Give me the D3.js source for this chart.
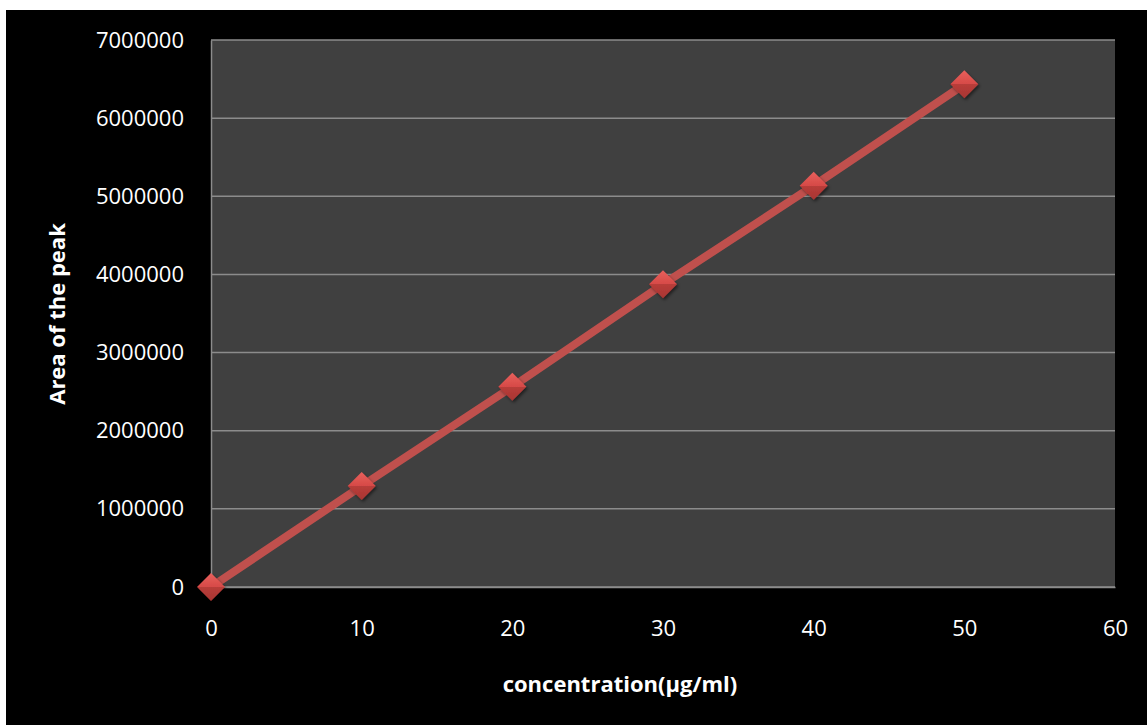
<!DOCTYPE html>
<html><head><meta charset="utf-8">
<script src="https://cdn.jsdelivr.net/npm/d3@7"></script>
<style>
html,body{margin:0;padding:0;background:#fff;}
svg{display:block;}
</style></head>
<body>
<script>
const concentration = [0, 10, 20, 30, 40, 50];
const peakArea = [0, 1293000, 2563000, 3874000, 5136000, 6433000];
const xTicks = [0, 10, 20, 30, 40, 50, 60];
const yTicks = [0, 1000000, 2000000, 3000000, 4000000, 5000000, 6000000, 7000000];

(function(){
const W = 1147, H = 725;
const svg = d3.select("body").append("svg").attr("width", W).attr("height", H);

const defs = svg.append("defs");
const grad = defs.append("linearGradient").attr("id","mk").attr("x1",0).attr("y1",0).attr("x2",0).attr("y2",1);
grad.append("stop").attr("offset","0%").attr("stop-color","#e8605c");
grad.append("stop").attr("offset","50%").attr("stop-color","#d64a47");
grad.append("stop").attr("offset","50%").attr("stop-color","#b93d3a");
grad.append("stop").attr("offset","100%").attr("stop-color","#a83532");
const filt = defs.append("filter").attr("id","sh").attr("x","-50%").attr("y","-50%").attr("width","200%").attr("height","200%");
filt.append("feDropShadow").attr("dx",1.5).attr("dy",2).attr("stdDeviation",1.5).attr("flood-color","#000").attr("flood-opacity",0.5);

svg.append("rect").attr("x",0).attr("y",0).attr("width",W).attr("height",H).attr("fill","#fff");
svg.append("rect").attr("x",6).attr("y",10).attr("width",W-6).attr("height",H-10).attr("fill","#000");

const pl = 211, pr = 1115, pt = 40, pb = 587;
const x = d3.scaleLinear().domain([0,60]).range([pl,pr]);
const y = d3.scaleLinear().domain([0,7000000]).range([pb,pt]);

svg.append("rect").attr("x",pl).attr("y",pt).attr("width",pr-pl).attr("height",pb-pt).attr("fill","#404040");

svg.append("g").selectAll("line").data(yTicks).join("line")
  .attr("x1",pl).attr("x2",pr)
  .attr("y1",d=>y(d)).attr("y2",d=>y(d))
  .attr("stroke","#8c8c8c").attr("stroke-width",1.5);

const yAxis = d3.axisLeft(y).tickValues(yTicks).tickFormat(d3.format("d")).tickSize(0).tickPadding(27);
const gy = svg.append("g").attr("transform",`translate(${pl},0)`).call(yAxis);
gy.select(".domain").attr("stroke","#8c8c8c").attr("stroke-width",1.5);
gy.selectAll("text").attr("fill","#fff").style("font-family","'Open Sans', sans-serif").style("font-size","22px");

const xAxis = d3.axisBottom(x).tickValues(xTicks).tickFormat(d3.format("d")).tickSize(0).tickPadding(33);
const gx = svg.append("g").attr("transform",`translate(0,${pb})`).call(xAxis);
gx.select(".domain").attr("stroke","#8c8c8c").attr("stroke-width",1.5);
gx.selectAll("text").attr("fill","#fff").style("font-family","'Open Sans', sans-serif").style("font-size","22px");

const line = d3.line().x((d,i)=>x(concentration[i])).y(d=>y(d));
svg.append("path").datum(peakArea).attr("d",line)
  .attr("fill","none").attr("stroke","#c0504d").attr("stroke-width",8).attr("stroke-linejoin","round");

const r = 14;
svg.append("g").selectAll("path").data(peakArea).join("path")
  .attr("transform",(d,i)=>`translate(${x(concentration[i])},${y(d)})`)
  .attr("d",`M0,${-r}L${r},0L0,${r}L${-r},0Z`)
  .attr("fill","url(#mk)").attr("filter","url(#sh)");

svg.append("text").attr("x",620).attr("y",692).attr("text-anchor","middle")
  .attr("fill","#fff").style("font-family","'Open Sans', sans-serif").style("font-weight","bold").style("font-size","22px")
  .text("concentration(µg/ml)");
svg.append("text").attr("transform","translate(65,314) rotate(-90)").attr("text-anchor","middle")
  .attr("fill","#fff").style("font-family","'Open Sans', sans-serif").style("font-weight","bold").style("font-size","22px")
  .text("Area of the peak");
})();
</script>
</body></html>
